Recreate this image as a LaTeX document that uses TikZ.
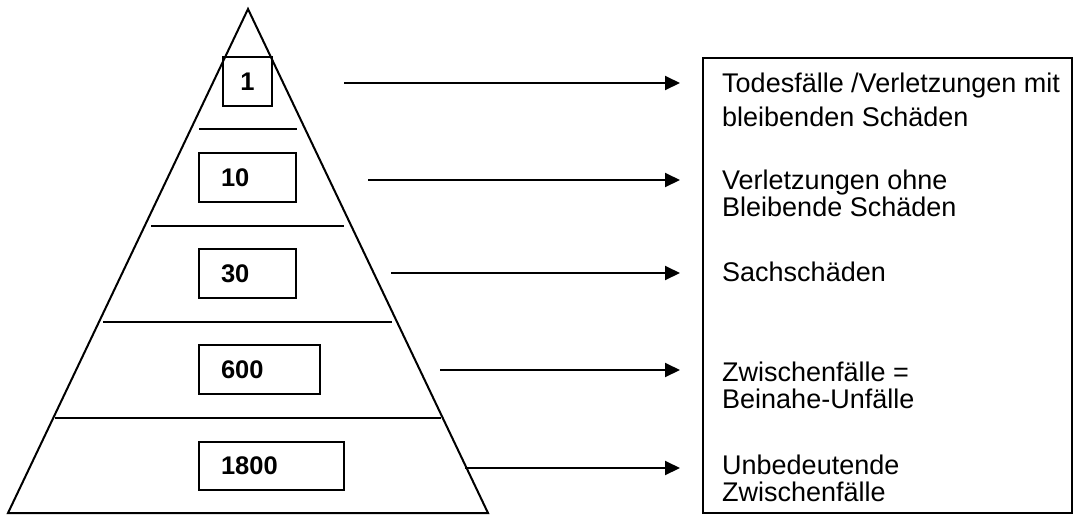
\documentclass[tikz,border=0pt]{standalone}
\usepackage{fontspec}
\setmainfont{Liberation Sans}
\usetikzlibrary{arrows.meta}
\begin{document}
\begin{tikzpicture}[x=1pt,y=-1pt,line join=miter]
\tikzset{
  edge/.style={line width=2pt},
  numbox/.style={draw, line width=2pt, anchor=north west, outer sep=0pt, inner xsep=22pt, inner ysep=0pt,
    align=left, minimum height=49pt, font=\fontsize{25.5}{30}\selectfont\bfseries},
  lblwide/.style={anchor=base west, align=left, inner sep=0pt, font=\fontsize{27}{34}\selectfont},
  lbl/.style={anchor=base west, align=left, inner sep=0pt, font=\fontsize{27}{27}\selectfont},
  arr/.style={line width=2pt, -{Triangle[length=15pt,width=14pt]}},
  panelbox/.style={draw, line width=2pt, anchor=north west, outer sep=0pt, inner sep=0pt}
}
\useasboundingbox (0,0) rectangle (1080,515);
% pyramid
\coordinate (apex) at (248,9);
\coordinate (bl) at (8,513);
\coordinate (br) at (488,513);
\draw[edge] (apex) -- (bl) -- (br) -- cycle;
\draw[edge] (199,129.3) -- (297,129.3);
\draw[edge] (151,225.7) -- (344,225.7);
\draw[edge] (103,321.7) -- (392,321.7);
\draw[edge] (55,417.5) -- (441,417.5);
% number boxes
\node[numbox, inner xsep=0pt, minimum width=49pt, align=center] (b1) at (223,57) {1};
\node[numbox, text width=53pt] (b10) at (199,153) {10};
\node[numbox, text width=53pt] (b30) at (199,249) {30};
\node[numbox, text width=77pt] (b600) at (199,345) {600};
\node[numbox, text width=101pt, minimum height=48pt] (b1800) at (199,442) {1800};
% right panel
\node[panelbox, minimum width=369pt, minimum height=455pt] (panel) at (703,58) {};
% multi-line labels are anchored at the baseline of their last line
\node[lblwide] (t1) at (722,126) {Todesfälle /Verletzungen mit\\bleibenden Schäden};
\node[lbl] (t2) at (722,216.5) {Verletzungen ohne\\Bleibende Schäden};
\node[lbl] (t3) at (722,281) {Sachschäden};
\node[lbl] (t4) at (722,408) {Zwischenfälle =\\Beinahe-Unfälle};
\node[lbl] (t5) at (722,501) {Unbedeutende\\Zwischenfälle};
% arrows
\coordinate (s1) at (344,83);  \coordinate (e1) at (680,83);
\coordinate (s2) at (368,180); \coordinate (e2) at (680,180);
\coordinate (s3) at (391,273); \coordinate (e3) at (680,273);
\coordinate (s4) at (440,370); \coordinate (e4) at (680,370);
\coordinate (s5) at (465,468); \coordinate (e5) at (680,468);
\draw[arr] (s1) -- (e1);
\draw[arr] (s2) -- (e2);
\draw[arr] (s3) -- (e3);
\draw[arr] (s4) -- (e4);
\draw[arr] (s5) -- (e5);
\end{tikzpicture}
\end{document}
